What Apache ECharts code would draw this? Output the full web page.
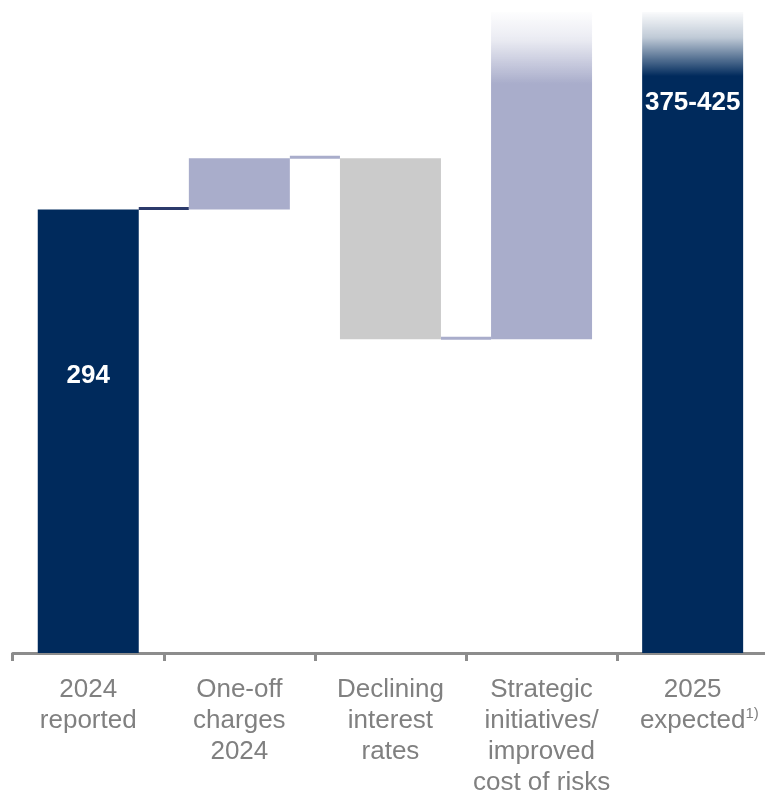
<!DOCTYPE html>
<html>
<head>
<meta charset="utf-8">
<script src="https://cdn.jsdelivr.net/npm/echarts@6/dist/echarts.min.js"></script>
<style>
  html, body { margin: 0; padding: 0; background: #ffffff; overflow: hidden; }
  #chart { width: 772px; height: 798px; }
</style>
</head>
<body>
<div id="chart"></div>
<script>
// Waterfall: 2024 reported result bridged to the 2025 expectation
const categories = [
  '2024\nreported',
  'One-off\ncharges\n2024',
  'Declining\ninterest\nrates',
  'Strategic\ninitiatives/\nimproved\ncost of risks',
  '2025\n{pad|1)}expected{sup|1)}'
];
const reported2024 = 294;
const bridgeSteps = [34, -120, 217];      // one-off, rates, strategic
const expected2025 = [375, 425];          // guidance range

const NAVY = '#002A5C';
const LILAC = '#A9ADCB';
const GREY = '#CBCBCB';
const BAR_W = 101;
const FONT = '"Liberation Sans", Arial, Helvetica, sans-serif';

// running totals -> invisible base + visible step for each column
const base = [0];
const height = [reported2024];
const levels = [reported2024];
let run = reported2024;
bridgeSteps.forEach(d => {
  const next = run + d;
  base.push(Math.min(run, next));
  height.push(Math.abs(d));
  levels.push(next);
  run = next;
});
base.push(0);
height.push(expected2025[1]);

function fade(color, rgb, top, bottom, soft) {
  // solid below the lower end of the range, fading out towards its top
  const f = (expected2025[1] - expected2025[0]) / (top - bottom);
  return new echarts.graphic.LinearGradient(0, 0, 0, 1, [
    { offset: 0, color: 'rgba(' + rgb + ',0.02)' },
    { offset: f * soft * 0.4, color: 'rgba(' + rgb + ',0.25)' },
    { offset: f * soft, color: color },
    { offset: 1, color: color }
  ]);
}

const stepColors = [
  NAVY,
  LILAC,
  GREY,
  fade(LILAC, '169,173,203', expected2025[1], base[3], 0.95),
  fade(NAVY, '0,42,92', expected2025[1], 0, 0.85)
];

const visible = height.map((v, i) => ({ value: v, itemStyle: { color: stepColors[i] } }));
visible[0].label = {
  show: true, position: ['50%', '37.4%'], align: 'center', verticalAlign: 'middle',
  formatter: String(reported2024)
};
visible[4].label = {
  show: true, position: ['50%', '14.2%'], align: 'center', verticalAlign: 'middle',
  formatter: expected2025[0] + '-' + expected2025[1]
};

// connector segments between neighbouring columns
const connectors = levels.map((v, i) => [i, v]);
const connectorColors = ['#2B3A6B', LILAC, LILAC];

const chart = echarts.init(document.getElementById('chart'), null, { renderer: 'canvas' });
chart.setOption({
  animation: false,
  grid: { left: 12.7, width: 755.5, top: 12, bottom: 135 },
  xAxis: {
    type: 'category',
    data: categories,
    axisLine: { lineStyle: { color: '#8C8C8C', width: 3 } },
    axisTick: { show: true, length: 8, lineStyle: { color: '#8C8C8C', width: 3 } },
    axisLabel: {
      interval: 0,
      margin: 21,
      color: '#808080',
      fontFamily: FONT,
      fontSize: 26,
      lineHeight: 31,
      rich: {
        sup: { fontSize: 15, fontFamily: FONT, color: '#808080', padding: [0, 0, 14, 0] },
        pad: { fontSize: 15, fontFamily: FONT, color: 'rgba(0,0,0,0)', padding: [0, 0, 14, 0] }
      }
    }
  },
  yAxis: { type: 'value', min: 0, max: expected2025[1], show: false, splitLine: { show: false } },
  series: [
    {
      type: 'bar', stack: 'w', barWidth: BAR_W, silent: true,
      itemStyle: { color: 'transparent' }, data: base
    },
    {
      type: 'bar', stack: 'w', barWidth: BAR_W,
      label: {
        color: '#ffffff', fontFamily: FONT, fontWeight: 'bold', fontSize: 26
      },
      data: visible
    },
    {
      type: 'custom',
      data: connectors,
      renderItem: function (params, api) {
        const i = api.value(0);
        const v = api.value(1);
        const a = api.coord([i, v]);
        const b = api.coord([i + 1, v]);
        return {
          type: 'line',
          shape: { x1: a[0] + BAR_W / 2, y1: a[1] - 1, x2: b[0] - BAR_W / 2, y2: b[1] - 1 },
          style: { stroke: connectorColors[params.dataIndex], lineWidth: 3 }
        };
      }
    }
  ]
});
</script>
</body>
</html>
